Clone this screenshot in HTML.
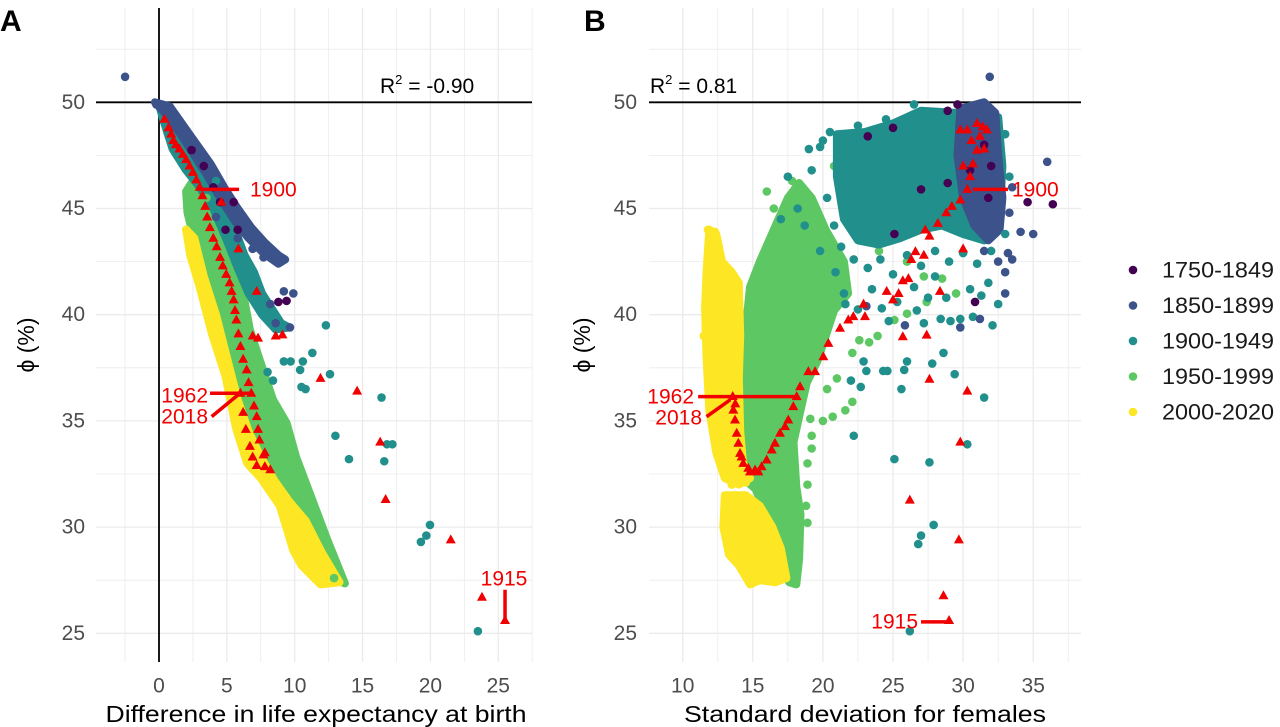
<!DOCTYPE html>
<html><head><meta charset="utf-8"><style>
html,body{margin:0;padding:0;background:#fff;}
svg{display:block;font-family:"Liberation Sans",Arial,sans-serif;}
</style></head><body>
<svg id="chart" width="1280" height="727" viewBox="0 0 1280 727" xmlns="http://www.w3.org/2000/svg">
<text x="0" y="31" font-size="30" font-weight="bold">A</text>
<text x="584" y="31" font-size="30" font-weight="bold">B</text>
<g id="panelA"></g>
<g id="panelB"></g>
<g id="legend"></g>
</svg>
<script>
// ---------- data ----------
const groupLabels = ["1750-1849","1850-1899","1900-1949","1950-1999","2000-2020"];
const groupColors = ["#440154","#3B528B","#21908C","#5DC863","#FDE725"];
const yTicks = [25,30,35,40,45,50];
const xTicksA = [0,5,10,15,20,25];
const xTicksB = [10,15,20,25,30,35];

// Panel A dense regions (x, phi)
const aBandGreen = [[2.0,45.8],[2.7,46.5],[3.5,45.7],[4.5,44.2],[5.5,42.6],[6.2,41],[6.7,39.3],[7.2,38.3],[8.4,36.0],[9.4,34.9],[10.1,33.3],[11.4,31.1],[12.4,29.4],[13.7,27.35],[12.8,27.6],[11.5,29.5],[10.2,31.0],[8.6,32.5],[7.2,33.8],[6.0,35.5],[5.0,37.8],[4.2,39.8],[3.3,41.8],[2.6,43.5],[2.1,44.8]];
const aBandYellow = [[2.0,44.0],[2.6,43.6],[3.3,41.8],[4.2,40],[5.0,38],[5.8,36],[6.6,34.5],[7.5,33.3],[8.5,32.2],[9.6,31.2],[10.8,30.3],[12.0,28.8],[13.3,27.4],[11.9,27.3],[10.5,28.2],[9.9,28.9],[8.9,31.0],[7.5,32.3],[6.5,33.0],[5.7,34.6],[4.9,37.1],[3.9,39.1],[3.0,41.3],[2.3,42.8]];
const aBandTeal = [[0.0,49.9],[1.2,49.3],[2.2,48.3],[3.2,47.3],[4.2,46.3],[5.0,45.0],[5.6,44.0],[6.3,42.8],[7.0,42.0],[7.6,41.0],[8.3,40.3],[9.0,39.6],[9.6,39.4],[8.6,39.3],[7.6,40.0],[6.6,41.0],[5.8,42.2],[5.0,43.5],[4.0,45.0],[3.0,46.0],[2.0,46.8],[1.0,47.8],[0.3,49.2]];
const aBandBlue = [[-0.3,50],[0.8,49.8],[1.8,48.9],[2.8,48.0],[3.8,47.1],[4.8,46.0],[5.8,45.0],[6.8,44.1],[7.8,43.4],[8.8,42.8],[9.3,42.6],[8.8,42.4],[7.7,42.9],[6.6,43.6],[5.6,44.4],[4.6,45.4],[3.6,46.5],[2.6,47.5],[1.6,48.5],[0.3,49.6]];
const aPurple = [[2.4,47.75],[3.3,47.0],[4.0,46.0],[4.5,45.3],[5.5,45.3],[4.9,44.0],[5.8,44.0],[9.4,40.65],[8.8,40.6]];
const aBlue = [[-2.5,51.2],[-0.2,49.9],[1.05,49.5],[4.2,44.6],[5.8,43.6],[6.9,43.1],[7.7,42.7],[9.2,41.1],[9.9,41.0],[8.2,40.5],[9.65,39.4],[8.6,39.6]];
const aTeal = [[12.3,39.5],[11.3,38.2],[9.2,37.8],[9.7,37.8],[10.6,37.8],[10.4,37.4],[12.6,37.2],[8.0,37.3],[8.4,36.9],[10.5,36.6],[10.8,36.5],[16.4,36.1],[13.0,34.3],[14.0,33.2],[16.8,33.9],[17.2,33.9],[16.6,33.1],[19.97,30.1],[19.7,29.6],[19.3,29.3],[23.5,25.1],[4.2,46.3],[6.5,42.2],[6.9,41.9]];
const aGreen = [[3.5,45.5],[12.9,27.6]];
const aYellow = [[2.0,44.0]];
const aRed = [[0.4,49.2],[0.7,48.8],[0.9,48.5],[1.05,48.2],[1.25,48.0],[1.5,47.8],[1.75,47.55],[2.0,47.3],[2.25,47.0],[2.5,46.7],[2.75,46.35],[3.0,46.0],[3.2,45.6],[3.4,45.1],[3.55,44.6],[3.75,44.1],[4.0,43.6],[4.25,43.2],[4.5,42.7],[4.7,42.3],[4.95,41.9],[5.2,41.5],[5.35,41.1],[5.5,40.7],[5.6,40.2],[5.7,39.75],[5.85,39.1],[6.0,38.5],[6.2,37.9],[6.46,37.4],[6.6,36.8],[6.8,36.3],[6.0,36.3],[7.0,35.7],[7.2,35.2],[6.2,35.4],[7.3,34.6],[6.4,34.6],[7.4,34.1],[6.7,33.8],[7.7,33.4],[6.9,33.3],[7.8,33.5],[7.2,32.9],[7.8,32.85],[8.2,32.7],[4.6,45.3],[5.85,43.1],[7.2,41.1],[6.9,39.0],[7.3,38.9],[8.6,39.0],[9.1,39.05],[11.9,37.0],[14.6,36.4],[16.3,34.0],[16.7,31.3],[21.5,29.4],[23.8,26.7],[25.5,25.6]];

// Panel B dense regions (sd, phi)
const bBandGreen = [[14.8,41.3],[15.5,42.5],[16.5,44],[17.5,45.5],[18.3,46.2],[19.2,45.5],[20.2,44],[21.5,42.5],[21.8,41],[20.8,40.2],[20.3,39.2],[19.6,37.8],[18.85,36.8],[18.4,35.5],[17.9,34.0],[18.1,31.9],[18.4,30.6],[18.3,28.5],[18.1,27.3],[17.6,27.4],[16.5,28.5],[16.0,30.5],[15.2,31.8],[14.1,32.4],[14.1,34],[14.2,36],[14.4,38],[14.6,40]];
const bBandYellow = [[11.9,44.0],[12.4,43.8],[12.8,42.5],[13.5,42.0],[14.0,41.5],[14.1,39],[14.0,37],[14.1,34.5],[14.3,33],[14.8,32.3],[14.0,32.0],[13.0,32.3],[12.4,33.5],[11.9,35.5],[11.7,38],[11.6,40.3],[11.7,42]];
const bBandYellow2 = [[13.0,31.5],[14.5,31.5],[15.5,31],[16.4,30],[17.0,29],[17.4,27.6],[16.6,27.4],[15.5,27.5],[14.8,27.3],[14.0,28.2],[13.3,28.7],[12.9,30]];
const bBandTeal = [[21,48.5],[23,48.6],[25,49],[27,49.6],[29.5,49.5],[31,49.5],[32.5,49.3],[32.8,47],[32.6,44.5],[31.5,43.5],[30,43.8],[28.5,44.2],[27,44.0],[25.5,43.6],[24,43.3],[22.5,43.5],[21.5,44.5],[21,46.5]];
const bBandBlue = [[29.8,49.7],[31.5,50],[32.3,49.5],[32.5,47.5],[32.8,45.5],[32.6,44],[31.8,43.5],[30.8,44.2],[30,45.5],[29.6,47.5]];
const bPurple = [[23.2,48.4],[25.0,48.8],[29.6,49.9],[28.9,49.6],[34.6,45.3],[36.4,45.2],[25.1,43.8],[30.85,40.6],[27.0,45.9],[28.9,46.2],[31.5,48.0],[32.0,47.0],[30.5,46.8],[31.8,45.5]];
const bBlue = [[31.9,51.2],[36.0,47.2],[34.1,43.9],[35.0,43.8],[33.2,42.9],[33.5,42.6],[33.0,42.0],[33.0,41.0],[29.8,39.4],[31.2,39.8],[23.1,40.4],[25.85,39.5],[33.5,46.0],[33.3,44.8],[32.5,42.5],[31.5,43.0]];
const bTeal = [[22.5,40.25],[24.7,39.7],[27.2,39.6],[28.4,39.8],[29.1,39.7],[29.8,39.8],[30.7,39.9],[32.1,39.5],[28.6,38.2],[26.0,37.8],[27.8,37.7],[22.9,37.8],[23.1,37.35],[24.3,37.35],[24.6,37.35],[25.8,37.4],[29.4,37.2],[22.0,36.9],[22.7,36.6],[25.6,36.5],[31.5,36.1],[22.2,34.3],[30.3,33.9],[25.1,33.2],[27.6,33.05],[27.9,30.1],[27.0,29.6],[26.8,29.2],[26.2,25.1],[18.2,45.0],[17.5,46.5],[19.0,47.8],[20.0,48.2],[21.5,41.0],[23.5,41.2],[26.5,41.3],[28.0,41.8],[30.5,41.2],[31.8,41.5],[25.3,40.6],[27.5,40.8],[17.0,44.5],[19.2,46.8],[19.8,47.9],[20.3,45.5],[20.8,44.2],[21.3,43.2],[22.2,42.6],[23.2,42.2],[24.1,42.6],[25.0,41.9],[26.0,42.8],[27.0,42.3],[28.0,43.0],[29.0,42.5],[30.0,42.9],[31.0,42.4],[32.0,43.0],[33.0,43.8],[33.3,46.5],[33.0,48.5],[22.5,48.9],[24.5,49.2],[26.5,49.9],[20.5,48.6],[18.7,44.2],[19.8,43.0],[21.6,40.5],[24.2,40.3],[26.7,40.2],[28.8,40.8],[31.3,40.9],[32.5,40.5],[20.9,42.0],[23.6,44.5]];
const bGreen = [[21.0,37.0],[20.3,36.5],[22.1,35.9],[21.6,35.5],[20.7,35.2],[20.0,35.0],[19.1,35.1],[19.2,34.3],[19.2,33.7],[18.9,33.0],[18.9,32.0],[18.8,31.0],[18.9,30.2],[23.9,39.0],[22.6,38.8],[23.3,38.7],[22.1,38.2],[25.1,39.75],[26.0,40.05],[27.4,40.6],[16.0,45.8],[17.8,46.3],[16.5,45.0],[20.8,47.0],[22.0,45.0],[24.0,43.0],[26.0,42.5],[27.2,41.8],[28.5,41.7],[29.5,41.0],[22.8,44.5],[24.5,45.5],[23.0,46.5]];
const bYellow = [[11.8,44.0],[12.3,43.9],[12.0,43.3],[12.3,42.8],[11.5,39.0],[13.5,32.0],[14.5,32.1],[13.8,31.5]];
const bRed = [[13.57,36.15],[13.61,35.51],[13.75,35.8],[13.73,35.04],[13.85,34.42],[13.97,33.95],[14.09,33.47],[14.2,33.3],[14.32,33.0],[14.68,32.77],[14.8,32.6],[15.16,32.69],[15.4,32.6],[15.63,32.84],[15.99,33.16],[16.35,33.63],[16.58,33.95],[16.94,34.42],[17.30,34.73],[17.53,35.04],[17.89,35.67],[18.13,36.14],[18.37,36.61],[18.96,37.32],[19.44,37.32],[20.03,38.02],[20.39,38.65],[21.22,39.36],[21.81,39.75],[22.17,39.91],[23.0,39.91],[22.9,40.5],[24.55,41.1],[25.0,40.7],[25.4,41.0],[25.7,41.6],[26.1,41.7],[26.3,42.6],[26.6,42.97],[27.2,42.8],[27.3,43.99],[27.6,43.7],[28.2,44.3],[28.8,44.8],[29.2,45.1],[29.8,45.4],[30.3,45.9],[30.5,46.5],[30.7,47.1],[31.0,47.75],[31.2,48.4],[31.4,48.85],[29.8,48.7],[30.3,48.7],[31.7,48.7],[31.0,49.0],[30.6,48.2],[31.5,47.8],[30.0,47.0],[30.0,43.1],[28.35,41.1],[25.7,38.96],[27.4,39.04],[27.6,36.96],[30.3,36.4],[29.8,34.0],[26.2,31.27],[29.7,29.4],[28.6,26.77],[29.0,25.6]];

// ---------- scales ----------
const NS = "http://www.w3.org/2000/svg";
const yScale = v => 102.3 + (50 - v) * 21.24;
const xScaleA = v => 159 + v * 13.57;
const xScaleB = v => 682.7 + (v - 10) * 14.02;

function mk(tag, parent, attrs) {
  const e = document.createElementNS(NS, tag);
  for (const k in attrs) e.setAttribute(k, attrs[k]);
  parent.appendChild(e);
  return e;
}

function drawPanel(g, xs, box, xTicks, gridX, gridY, title, titleCx, titleW, yLabelRight, yTitleX) {
  gridX.forEach(v => {
    const l = mk("line", g, {x1: xs(v), x2: xs(v), y1: box.top, y2: box.bottom, stroke: "#ebebeb", "stroke-width": (v % 5 === 0) ? 1.3 : 0.8});
    
    
  });
  gridY.forEach(v => {
    const l = mk("line", g, {x1: box.left, x2: box.right, y1: yScale(v), y2: yScale(v), stroke: "#ebebeb", "stroke-width": (v % 5 === 0) ? 1.3 : 0.8});
    
    
  });
  yTicks.forEach(v => {
    const t = mk("text", g, {x: yLabelRight, y: yScale(v), "text-anchor": "end", "dominant-baseline": "central", "font-size": 21, fill: "#4d4d4d"});
    t.textContent = v;
    
    
  });
  xTicks.forEach(v => {
    const t = mk("text", g, {x: xs(v), y: 686, "text-anchor": "middle", "dominant-baseline": "central", "font-size": 21, fill: "#4d4d4d"});
    t.textContent = v;
    
    
  });
  const xt = mk("text", g, {x: titleCx, y: 722, "text-anchor": "middle", "font-size": 23, fill: "#000", textLength: titleW, lengthAdjust: "spacingAndGlyphs"});
  xt.textContent = title;
  
  
  const yt = mk("text", g, {x: 0, y: 0, "text-anchor": "middle", "font-size": 23, fill: "#000", transform: `translate(${yTitleX},345) rotate(-90)`});
  yt.textContent = "\u03D5 (%)";
  
  
}

function band(g, xs, pts, color, name) {
  const d = pts.map((p, i) => (i ? "L" : "M") + xs(p[0]).toFixed(1) + "," + yScale(p[1]).toFixed(1)).join("") + "Z";
  const p = mk("path", g, {d: d, fill: color, stroke: color, "stroke-width": 8, "stroke-linejoin": "round"});
  
  
}
function dots(g, xs, pts, color, name) {
  pts.forEach(p => {
    const c = mk("circle", g, {cx: xs(p[0]), cy: yScale(p[1]), r: 4.3, fill: color});
    
    
  });
}
function tris(g, xs, pts) {
  pts.forEach(p => {
    const x = xs(p[0]), y = yScale(p[1]);
    const t = mk("polygon", g, {points: `${x},${y-5.5} ${x-5},${y+3.5} ${x+5},${y+3.5}`, fill: "#f00000"});
    
    
  });
}
function redLine(g, x1, y1, x2, y2, name) {
  const l = mk("line", g, {x1: x1, y1: y1, x2: x2, y2: y2, stroke: "#f00000", "stroke-width": 3.5});
  
  
}
function redText(g, x, y, s, anchor, name) {
  const t = mk("text", g, {x: x, y: y, "text-anchor": anchor, "dominant-baseline": "central", "font-size": 21, fill: "#f00000"});
  t.textContent = s;
  
  
}
function r2(g, x, y, val) {
  const t = mk("text", g, {x: x, y: y, "font-size": 21, fill: "#000"});
  t.innerHTML = 'R<tspan dy="-9" font-size="13">2</tspan><tspan dy="9"> = ' + val + '</tspan>';
  
  
}

const gridYVals = [25,27.5,30,32.5,35,37.5,40,42.5,45,47.5,50,52.5];

// ---------- Panel A ----------
const gA = document.getElementById("panelA");
drawPanel(gA, xScaleA, {left: 96, right: 532, top: 8, bottom: 662}, xTicksA,
  [-2.5,0,2.5,5,7.5,10,12.5,15,17.5,20,22.5,25,27.5], gridYVals,
  "Difference in life expectancy at birth", 316, 421, 85, 34);
let l = mk("line", gA, {x1: 96, x2: 532, y1: yScale(50), y2: yScale(50), stroke: "#000", "stroke-width": 1.8});


l = mk("line", gA, {x1: xScaleA(0), x2: xScaleA(0), y1: 8, y2: 662, stroke: "#000", "stroke-width": 1.8});


band(gA, xScaleA, aBandGreen, groupColors[3], "cloud-1950-1999");
band(gA, xScaleA, aBandYellow, groupColors[4], "cloud-2000-2020");
band(gA, xScaleA, aBandTeal, groupColors[2], "cloud-1900-1949");
band(gA, xScaleA, aBandBlue, groupColors[1], "cloud-1850-1899");
dots(gA, xScaleA, aGreen, groupColors[3], "point-1950-1999");
dots(gA, xScaleA, aYellow, groupColors[4], "point-2000-2020");
dots(gA, xScaleA, aTeal, groupColors[2], "point-1900-1949");
dots(gA, xScaleA, aBlue, groupColors[1], "point-1850-1899");
dots(gA, xScaleA, aPurple, groupColors[0], "point-1750-1849");
tris(gA, xScaleA, aRed);
r2(gA, 380, 93, "-0.90");
redLine(gA, xScaleA(3.0), yScale(45.9), xScaleA(5.9), yScale(45.9), "label-line-1900");
redText(gA, 250, 190, "1900", "start", "label-1900");
redLine(gA, xScaleA(3.76), yScale(36.3), xScaleA(6.7), yScale(36.3), "label-line-1962");
redText(gA, 208, 396, "1962", "end", "label-1962");
redLine(gA, xScaleA(3.88), yScale(35.2), xScaleA(5.97), yScale(36.3), "label-line-2018");
redText(gA, 208, 417, "2018", "end", "label-2018");
redLine(gA, xScaleA(25.5), yScale(27.05), xScaleA(25.5), yScale(25.6), "label-line-1915");
redText(gA, 504, 579, "1915", "middle", "label-1915");

// ---------- Panel B ----------
const gB = document.getElementById("panelB");
drawPanel(gB, xScaleB, {left: 649, right: 1081, top: 8, bottom: 662}, xTicksB,
  [10,12.5,15,17.5,20,22.5,25,27.5,30,32.5,35,37.5], gridYVals,
  "Standard deviation for females", 865, 362, 637, 590);
l = mk("line", gB, {x1: 649, x2: 1081, y1: yScale(50), y2: yScale(50), stroke: "#000", "stroke-width": 1.8});


band(gB, xScaleB, bBandGreen, groupColors[3], "cloud-1950-1999");
band(gB, xScaleB, bBandYellow, groupColors[4], "cloud-2000-2020");
band(gB, xScaleB, bBandYellow2, groupColors[4], "cloud-2000-2020-low");
dots(gB, xScaleB, bGreen, groupColors[3], "point-1950-1999");
band(gB, xScaleB, bBandTeal, groupColors[2], "cloud-1900-1949");
band(gB, xScaleB, bBandBlue, groupColors[1], "cloud-1850-1899");
dots(gB, xScaleB, bYellow, groupColors[4], "point-2000-2020");
dots(gB, xScaleB, bTeal, groupColors[2], "point-1900-1949");
dots(gB, xScaleB, bBlue, groupColors[1], "point-1850-1899");
dots(gB, xScaleB, bPurple, groupColors[0], "point-1750-1849");
tris(gB, xScaleB, bRed);
r2(gB, 650, 93, "0.81");
redLine(gB, xScaleB(11.1), yScale(36.14), xScaleB(18.13), yScale(36.14), "label-line-1962");
redText(gB, 694, 397, "1962", "end", "label-1962");
redLine(gB, xScaleB(11.7), yScale(35.2), xScaleB(13.4), yScale(36.0), "label-line-2018");
redText(gB, 702, 418, "2018", "end", "label-2018");
redLine(gB, xScaleB(27.0), yScale(25.54), xScaleB(29.0), yScale(25.54), "label-line-1915");
redText(gB, 918, 622, "1915", "end", "label-1915");
redLine(gB, xScaleB(30.7), yScale(45.9), xScaleB(33.2), yScale(45.9), "label-line-1900");
redText(gB, 1012, 190, "1900", "start", "label-1900");

// ---------- Legend ----------
const gL = document.getElementById("legend");
groupLabels.forEach((s, i) => {
  const y = 270 + i * 35.5;
  const c = mk("circle", gL, {cx: 1133, cy: y, r: 4.3, fill: groupColors[i]});
  
  
  const t = mk("text", gL, {x: 1162, y: y, "dominant-baseline": "central", "font-size": 22, fill: "#1a1a1a", textLength: 112, lengthAdjust: "spacingAndGlyphs"});
  t.textContent = s;
  
  
});
</script>
</body></html>
